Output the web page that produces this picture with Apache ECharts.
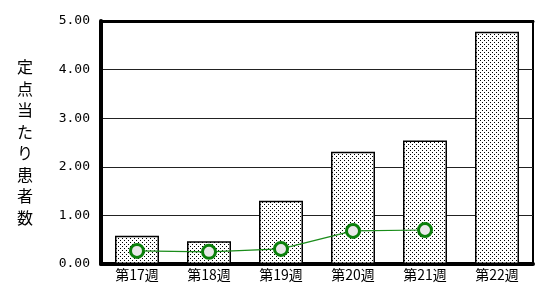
<!DOCTYPE html>
<html>
<head>
<meta charset="utf-8">
<script src="https://cdn.jsdelivr.net/npm/echarts@6/dist/echarts.min.js"></script>
<style>
  html, body { margin: 0; padding: 0; background: #fff; }
  #chart { width: 535px; height: 284px; }
</style>
</head>
<body>
<div id="chart"></div>
<script>
const weeks = ["第17週", "第18週", "第19週", "第20週", "第21週", "第22週"];
const currentYear = [0.58, 0.47, 1.30, 2.31, 2.54, 4.78];
const lastYear = [0.27, 0.25, 0.31, 0.68, 0.70, null];
const yTicks = [0, 1, 2, 3, 4, 5];

// dotted fill like the old chart
function dotPattern() {
  const c = document.createElement("canvas");
  c.width = 4;
  c.height = 4;
  const ctx = c.getContext("2d");
  ctx.fillStyle = "#fff";
  ctx.fillRect(0, 0, 4, 4);
  ctx.fillStyle = "#000";
  ctx.fillRect(0, 0, 1, 1);
  ctx.fillRect(2, 2, 1, 1);
  return c;
}

const chart = echarts.init(document.getElementById("chart"));
const labelFont = "'DejaVu Sans Mono', monospace";

chart.setOption({
  animation: false,
  grid: {
    left: 101, right: 2, top: 21, bottom: 20,
    show: true, borderColor: "#000", borderWidth: 2
  },
  xAxis: [
    {
      type: "category",
      data: weeks,
      axisLine: { lineStyle: { color: "#000", width: 4 } },
      axisTick: { show: false },
      axisLabel: { color: "#000", fontSize: 14, margin: 4, fontFamily: "'Noto Sans CJK JP'" }
    },
    {
      type: "category",
      position: "top",
      data: weeks,
      axisLine: { lineStyle: { color: "#000", width: 3 } },
      axisTick: { show: false },
      axisLabel: { show: false }
    }
  ],
  yAxis: {
    type: "value",
    min: yTicks[0],
    max: yTicks[yTicks.length - 1],
    interval: 1,
    name: "定点当たり患者数".split("").join("\n"),
    nameLocation: "middle",
    nameRotate: 0,
    nameGap: 68,
    nameTextStyle: { color: "#000", fontSize: 16, lineHeight: 21.5, fontFamily: "'Noto Sans CJK JP'" },
    axisLine: { show: true, lineStyle: { color: "#000", width: 4 } },
    axisTick: { show: false },
    axisLabel: {
      color: "#000", fontSize: 13, margin: 11, fontFamily: labelFont,
      formatter: v => v.toFixed(2)
    },
    splitLine: { lineStyle: { color: "#222", width: 1 } }
  },
  series: [
    {
      type: "bar",
      data: currentYear,
      barWidth: 44,
      itemStyle: {
        color: { image: dotPattern(), repeat: "repeat" },
        borderColor: "#000",
        borderWidth: 1.5
      }
    },
    {
      type: "line",
      data: lastYear,
      symbol: "circle",
      symbolSize: 13,
      lineStyle: { color: "#1a8c1a", width: 1.2 },
      itemStyle: { color: "#e8e8e8", borderColor: "#0a800a", borderWidth: 3 }
    }
  ]
});
</script>
</body>
</html>
